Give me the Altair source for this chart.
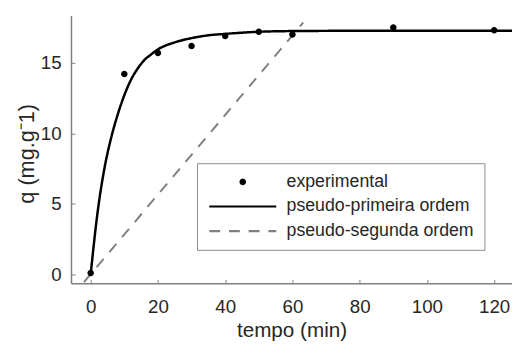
import altair as alt
import pandas as pd

FONT = "Liberation Sans"
AX = "#7f7f7f"
TXT = "#262626"

series = ["experimental", "pseudo-primeira ordem", "pseudo-segunda ordem"]

# experimental points
exp_t = [0, 10, 20, 30, 40, 50, 60, 90, 120]
exp_q = [0.1, 14.2, 15.7, 16.2, 16.9, 17.2, 17.0, 17.5, 17.3]

# pseudo-primeira ordem
pfo_t = [0, 2, 4, 6, 8, 10, 12, 14, 16, 18, 20, 25, 30, 35, 40, 50, 60, 80, 100, 125.3]
pfo_q = [0, 4.3, 7.4, 9.6, 11.3, 12.7, 13.8, 14.6, 15.2, 15.6, 15.95, 16.45, 16.75, 16.95,
         17.05, 17.2, 17.25, 17.27, 17.27, 17.27]

# pseudo-segunda ordem (straight dashed segment)
pso_t = [-2, 63.2]
pso_q = [-0.55, 17.85]

x_ticks = [0, 20, 40, 60, 80, 100, 120]
y_ticks = [0, 5, 10, 15]

DOT = "M-0.45,0A0.45,0.45,0,1,1,0.45,0A0.45,0.45,0,1,1,-0.45,0Z"
STROKE = "M-6.8,0H6.8"

df_exp = pd.DataFrame({"t": exp_t, "q": exp_q, "serie": series[0]})
df_pfo = pd.DataFrame({"t": pfo_t, "q": pfo_q, "serie": series[1]})
df_pso = pd.DataFrame({"t": pso_t, "q": pso_q, "serie": series[2]})

leg = alt.Legend(
    title=None, orient="none", legendX=128, legendY=150,
    fillColor="white", strokeColor="#8c8c8c", padding=10,
    labelFont=FONT, labelFontSize=18, labelColor=TXT, labelLimit=0,
    labelExpr="datum.label + '     '",
    symbolSize=100, symbolStrokeWidth=2.2, symbolOffset=27.5, labelOffset=35.5,
    rowPadding=7,
)

color_scale = alt.Scale(domain=series, range=["#000000", "#000000", "#808080"])
shape_scale = alt.Scale(domain=series, range=[DOT, STROKE, STROKE])
dash_scale = alt.Scale(domain=series, range=[[1, 0], [1, 0], [11, 9]])

x_axis = alt.Axis(
    values=x_ticks, title="tempo (min)", grid=False,
    domainColor=AX, domainWidth=1.5, tickColor=AX, tickWidth=1,
    tickSize=alt.ExprRef(expr="-4"), labelPadding=19,
    labelFont=FONT, labelFontSize=19, labelColor=TXT,
    titleFont=FONT, titleFontSize=21, titleFontWeight="normal", titleColor=TXT,
    titleY=48, titleBaseline="middle",
)
y_axis = alt.Axis(
    values=y_ticks, title="q (mg.g⁻1)", grid=False,
    domainColor=AX, domainWidth=1.5, tickColor=AX, tickWidth=1,
    tickSize=alt.ExprRef(expr="-4"), labelPadding=14,
    labelFont=FONT, labelFontSize=19, labelColor=TXT,
    titleFont=FONT, titleFontSize=22, titleFontWeight="normal", titleColor=TXT,
    titleX=-45, titleY=140, titleBaseline="middle",
)

X = alt.X("t:Q", scale=alt.Scale(domain=[-5.85, 125.3], nice=False, zero=False), axis=x_axis)
Y = alt.Y("q:Q", scale=alt.Scale(domain=[-0.63, 18.35], nice=False, zero=False), axis=y_axis)
C = alt.Color("serie:N", scale=color_scale, legend=leg)
D = alt.StrokeDash("serie:N", scale=dash_scale, legend=leg)
S = alt.Shape("serie:N", scale=shape_scale, legend=leg)

line1 = alt.Chart(df_pfo).mark_line(strokeWidth=2.5, clip=True, interpolate="monotone").encode(
    x=X, y=Y, color=C, strokeDash=D)
line2 = alt.Chart(df_pso).mark_line(strokeWidth=2, clip=True).encode(
    x=X, y=Y, color=C, strokeDash=D)
pts = alt.Chart(df_exp).mark_point(filled=True, opacity=1, size=216).encode(
    x=X, y=Y, color=C, shape=S)

chart = alt.layer(line1, line2, pts).properties(
    width=448, height=272,
    padding={"left": 64, "top": 5, "right": 0, "bottom": 60},
    autosize=alt.AutoSizeParams(type="none"),
    background="white",
).configure_view(stroke=None)

chart.save("out.html", embed_options={"renderer": "svg", "actions": False})
